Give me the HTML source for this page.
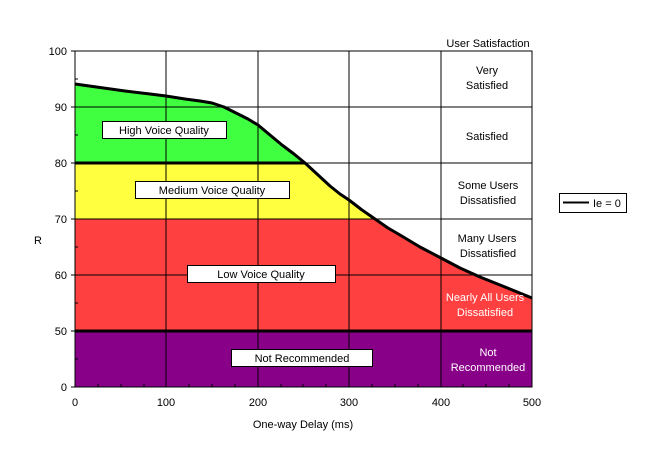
<!DOCTYPE html>
<html><head><meta charset="utf-8"><style>body{margin:0;background:#fff}svg{display:block}text{font-family:"Liberation Sans",Arial,sans-serif;font-size:11px}</style></head><body>
<svg width="667" height="459" xmlns="http://www.w3.org/2000/svg">
<rect width="667" height="459" fill="#fff"/>
<rect x="75" y="51" width="457" height="112" fill="#40FF40"/>
<rect x="75" y="163" width="457" height="56" fill="#FFFF40"/>
<rect x="75" y="219" width="457" height="112" fill="#FF4040"/>
<rect x="75" y="331" width="457" height="56" fill="#880088"/>
<polygon fill="#fff" points="75,51 75,84 100,87.5 125,91 150,94 166,96 185,99 200,101 212,103 224,107 236,113 248,119 258,125 270,135 282,145 294,154 305,163 317,174 330,186 340,194 349,200 362,210 375,219 388,228 400,235 420,247 441,258 460,268 480,277 505,287 532,298 532,51"/>
<g stroke="#000" stroke-width="1">
<line x1="166" y1="51" x2="166" y2="387"/><line x1="258" y1="51" x2="258" y2="387"/><line x1="349" y1="51" x2="349" y2="387"/><line x1="441" y1="51" x2="441" y2="387"/>
<line x1="75" y1="107" x2="532" y2="107"/><line x1="75" y1="163" x2="532" y2="163"/><line x1="75" y1="219" x2="532" y2="219"/><line x1="75" y1="275" x2="532" y2="275"/>
<rect x="75" y="51" width="457" height="336" fill="none"/>
</g>
<g stroke="#000" stroke-width="3"><line x1="75" y1="163" x2="305" y2="163"/><line x1="75" y1="331" x2="532" y2="331"/></g>
<polyline fill="none" stroke="#000" stroke-width="3" stroke-linejoin="round" points="75,84 100,87.5 125,91 150,94 166,96 185,99 200,101 212,103 224,107 236,113 248,119 258,125 270,135 282,145 294,154 305,163 317,174 330,186 340,194 349,200 362,210 375,219 388,228 400,235 420,247 441,258 460,268 480,277 505,287 532,298"/>
<g stroke="#000" stroke-width="1">
<line x1="71" y1="51" x2="75" y2="51"/><line x1="71" y1="107" x2="75" y2="107"/><line x1="71" y1="163" x2="75" y2="163"/><line x1="71" y1="219" x2="75" y2="219"/><line x1="71" y1="275" x2="75" y2="275"/><line x1="71" y1="331" x2="75" y2="331"/><line x1="71" y1="387" x2="75" y2="387"/>
<line x1="75" y1="79" x2="78" y2="79"/><line x1="75" y1="135" x2="78" y2="135"/><line x1="75" y1="191" x2="78" y2="191"/><line x1="75" y1="247" x2="78" y2="247"/><line x1="75" y1="303" x2="78" y2="303"/><line x1="75" y1="359" x2="78" y2="359"/>
<line x1="98" y1="384" x2="98" y2="387"/><line x1="121" y1="384" x2="121" y2="387"/><line x1="144" y1="384" x2="144" y2="387"/><line x1="189" y1="384" x2="189" y2="387"/><line x1="212" y1="384" x2="212" y2="387"/><line x1="235" y1="384" x2="235" y2="387"/><line x1="281" y1="384" x2="281" y2="387"/><line x1="303" y1="384" x2="303" y2="387"/><line x1="326" y1="384" x2="326" y2="387"/><line x1="372" y1="384" x2="372" y2="387"/><line x1="395" y1="384" x2="395" y2="387"/><line x1="418" y1="384" x2="418" y2="387"/><line x1="463" y1="384" x2="463" y2="387"/><line x1="486" y1="384" x2="486" y2="387"/><line x1="509" y1="384" x2="509" y2="387"/>
</g>
<g text-anchor="end"><text x="67" y="55">100</text><text x="67" y="111">90</text><text x="67" y="167">80</text><text x="67" y="223">70</text><text x="67" y="279">60</text><text x="67" y="335">50</text><text x="67" y="391">0</text></g>
<g text-anchor="middle"><text x="75" y="406">0</text><text x="166" y="406">100</text><text x="258" y="406">200</text><text x="349" y="406">300</text><text x="441" y="406">400</text><text x="532" y="406">500</text>
<text x="303" y="428">One-way Delay (ms)</text>
<text x="488" y="47">User Satisfaction</text>
<text x="487" y="74">Very</text><text x="487" y="89">Satisfied</text>
<text x="487" y="140">Satisfied</text>
<text x="488" y="189">Some Users</text><text x="488" y="204">Dissatisfied</text>
<text x="487" y="242">Many Users</text><text x="488" y="257">Dissatisfied</text>
<g fill="#fff"><text x="485" y="301">Nearly All Users</text><text x="485" y="316">Dissatisfied</text>
<text x="488" y="356">Not</text><text x="488" y="371">Recommended</text></g>
</g>
<text x="34" y="244">R</text>
<g stroke="#000" fill="#fff"><rect x="102.5" y="121.5" width="124" height="17"/><rect x="135.5" y="181.5" width="154" height="17"/><rect x="187.5" y="265.5" width="148" height="17"/><rect x="231.5" y="349.5" width="141" height="17"/><rect x="559.5" y="193.5" width="67" height="19"/></g>
<g text-anchor="middle"><text x="164" y="134">High Voice Quality</text><text x="212" y="194">Medium Voice Quality</text><text x="261" y="278">Low Voice Quality</text><text x="302" y="362">Not Recommended</text></g>
<line x1="563" y1="202.5" x2="589" y2="202.5" stroke="#000" stroke-width="2"/>
<text x="593" y="207">Ie = 0</text>
</svg>
</body></html>
